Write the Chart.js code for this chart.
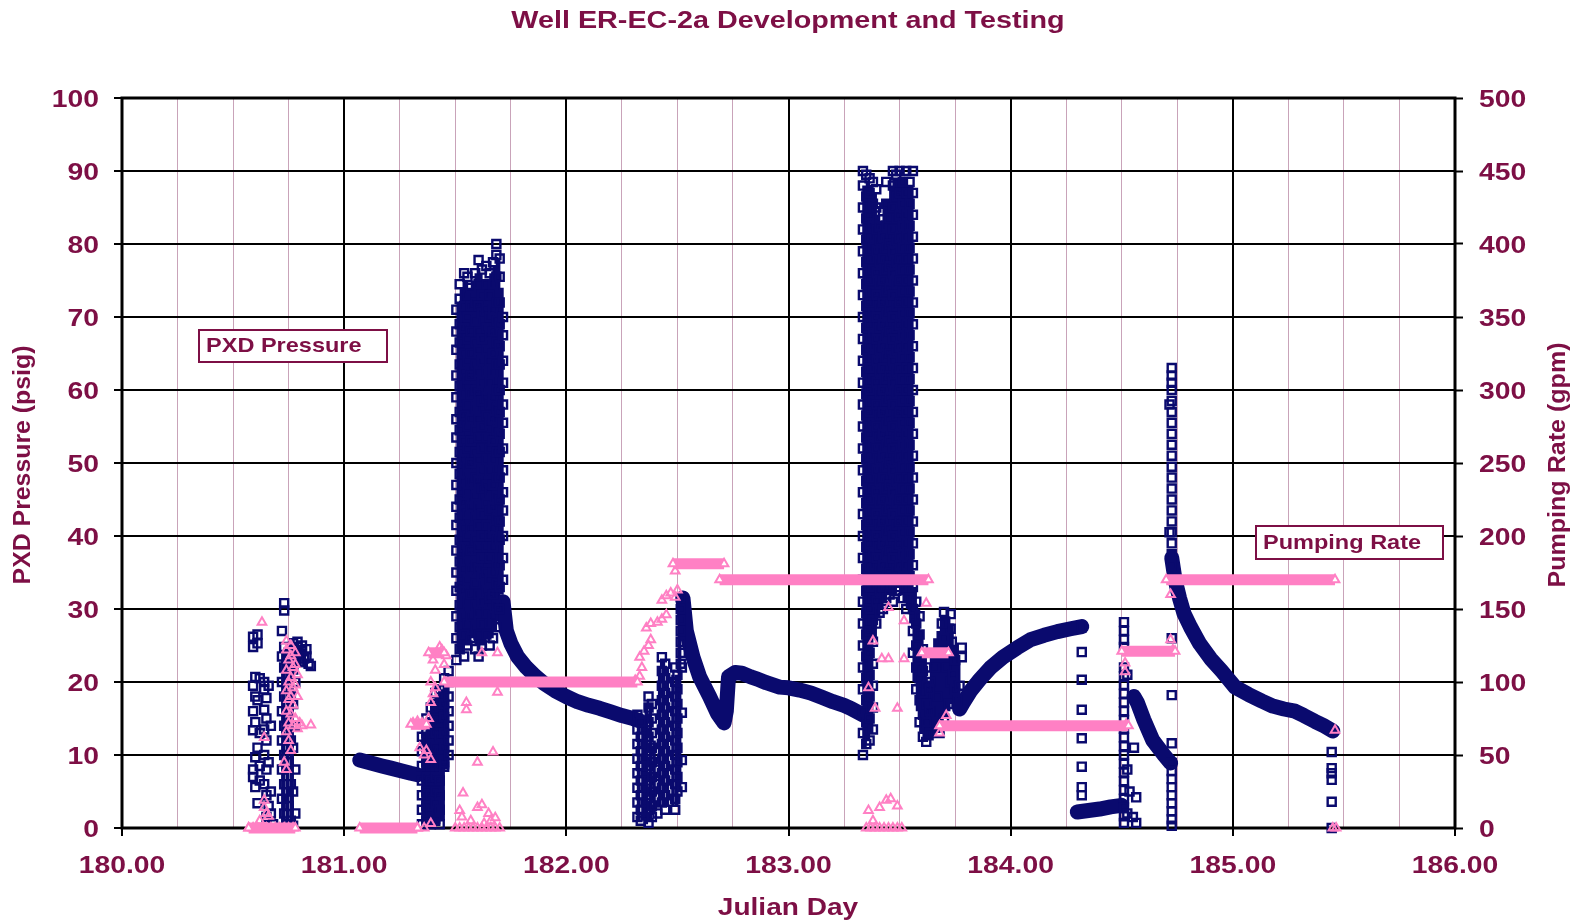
<!DOCTYPE html>
<html><head><meta charset="utf-8">
<script src="https://cdn.jsdelivr.net/npm/chart.js@4.4.1/dist/chart.umd.min.js"></script>
<style>html,body{margin:0;padding:0;background:#fff;}canvas{display:block;}</style>
</head><body>
<canvas id="c" width="1585" height="924"></canvas>
<script>
// ===== labels =====
const chartTitle = 'Well ER-EC-2a Development and Testing';
const xTitle = 'Julian Day';
const yTitle = 'PXD Pressure (psig)';
const y2Title = 'Pumping Rate (gpm)';
const pxdLabel = 'PXD Pressure';
const rateLabel = 'Pumping Rate';
const dayTicks = [180, 181, 182, 183, 184, 185, 186];
const psiTicks = [0, 10, 20, 30, 40, 50, 60, 70, 80, 90, 100];
const gpmTicks = [0, 50, 100, 150, 200, 250, 300, 350, 400, 450, 500];

// ===== PXD pressure (psig) : [day, psig] =====
const pxdCluster1 = [[180.59,26.2],[180.59,24.8],[180.60,20.7],[180.59,19.5],[180.60,18.0],[180.59,16.0],[180.60,14.5],[180.59,13.4],[180.60,9.7],[180.59,8.0],[180.60,5.6],[180.61,3.4],[180.59,7.0],
[180.61,26.5],[180.61,25.3],[180.62,20.5],[180.61,17.5],[180.62,13.0],[180.61,11.0],[180.62,8.5],[180.62,6.5],
[180.64,20.0],[180.64,19.0],[180.65,17.8],[180.64,16.2],[180.65,15.0],[180.64,13.5],[180.65,12.0],[180.64,10.0],[180.65,8.0],[180.64,6.0],[180.65,4.5],[180.66,3.0],[180.65,1.5],
[180.66,19.5],[180.67,14.0],[180.66,9.0],[180.67,5.0],[180.67,2.0],[180.68,0.5],
[180.73,30.8],[180.73,29.8],[180.72,27.0],[180.73,24.8],[180.72,23.5],[180.73,22.0],[180.72,20.0],[180.73,18.0],[180.72,16.0],[180.73,14.0],[180.72,12.0],[180.73,10.0],[180.72,8.0],[180.73,6.0],[180.72,4.0],[180.73,2.0],[180.74,0.5],
[180.75,24.0],[180.75,21.0],[180.76,18.0],[180.75,15.0],[180.76,12.0],[180.75,9.0],[180.76,6.0],[180.75,3.0],[180.76,1.0],
[180.77,25.3],[180.77,24.5],[180.78,23.5],[180.77,22.5],[180.78,20.0],[180.77,17.0],[180.78,14.0],[180.77,11.0],[180.78,8.0],[180.77,5.0],[180.78,2.0],[180.77,0.3],
[180.79,25.5],[180.79,24.8],[180.80,23.8],[180.80,22.8],[180.81,25.0],[180.81,24.2],[180.82,23.2],[180.83,24.5],[180.83,23.5],[180.84,22.5],[180.85,22.2]];

const pxdRise1 = [[181.35,0.5],[181.35,2.5],[181.35,4.5],[181.35,6.5],[181.35,8.5],[181.35,10.5],[181.35,12.5],
[181.37,1],[181.37,3],[181.37,5],[181.37,7],[181.37,9],[181.37,11],[181.37,13],[181.37,15],
[181.39,0.5],[181.39,2.5],[181.39,4.5],[181.39,6.5],[181.39,8.5],[181.39,10.5],[181.39,12.5],[181.39,14.5],[181.39,16.5],
[181.41,1],[181.41,3.4],[181.41,5],[181.41,7],[181.41,8.6],[181.41,11],[181.41,13],[181.41,15],[181.41,17],[181.41,18.5],
[181.43,0.5],[181.43,2.5],[181.43,4.5],[181.43,6.5],[181.43,8.5],[181.43,10.5],[181.43,12.5],[181.43,14.5],[181.43,16.5],[181.43,19],
[181.45,8.4],[181.45,9],[181.45,11],[181.45,13],[181.45,15.2],[181.45,17],[181.45,19],[181.45,20.5],
[181.47,10],[181.47,12],[181.47,14],[181.47,16],[181.47,18],[181.47,20],[181.47,21.5]];

const pxdSpike1 = [
 [181.505,[23,26,29,32.5,35,38,41.5,44,47,50,53.5,56,59,62,65.5,68,71]],
 [181.52,[24.5,27.5,30.5,33,36.5,39.5,42.5,45,48.5,51.5,54.5,57,60.5,63.5,66.5,69,72.5,74.5]],
 [181.54,[23.5,26.5,29,32.5,35.5,38.5,41,44.5,47.5,50.5,53,56.5,59.5,62.5,65,68.5,71.5,76]],
 [181.555,[25,28,31,34,37.5,40,43,46,49.5,52,55,58,61.5,64,67,70,73,75.5]],
 [181.57,[26,29,32,35.5,38,41,44,47.5,50,53,56,59.5,62,65,68,71.5,74]],
 [181.59,[24.5,27.5,30.5,33.5,36,39.5,42.5,45.5,48,51.5,54.5,57.5,60,63.5,66.5,69.5,72,76]],
 [181.605,[23.5,26.5,29.5,32,35.5,38.5,41.5,44,47.5,50.5,53.5,56,59.5,62.5,65.5,68,71.5,74.5,77.8]],
 [181.62,[25,28,31,34.5,37,40,43,46.5,49,52,55,58.5,61,64,67,70.5,73,76.5]],
 [181.64,[26.5,29.5,32.5,35,38.5,41.5,44.5,47,50.5,53.5,56.5,59,62.5,65.5,68.5,71,74.5,77]],
 [181.655,[25,28,31.5,34,37,40,43.5,46,49,52,55.5,58,61,64,67.5,70,73,76]],
 [181.67,[26,29,32,35,38.5,41,44,47,50.5,53,56,59,62.5,65,68,71,74.5,77.5]],
 [181.685,[27.5,30.5,33.5,36,39.5,42.5,45.5,48,51.5,54.5,57.5,60,63.5,66.5,69.5,72,75.5,78.5,80]],
 [181.70,[30,33,36,39.5,42,45,48,51.5,54,57,60,63.5,66,69,72,75.5,78]],
 [181.715,[34,37,40,43.5,46,49,52,55.5,58,61,64,67.5,70]]
];

const pxdMid2 = [
 [182.32,[15.5,13.5,11.5,9.5,7.5,5.5,3.5,1.5]],
 [182.335,[14.5,12.5,10.5,8.5,6.5,4.5,2.5,1]],
 [182.37,[18,16.5,14.5,12.5,10.5,8.5,6.5,4.5,2.5,0.7]],
 [182.385,[17,15,13,11,9,7,5,3,1.5]],
 [182.40,[4.2,6,8]],
 [182.41,[2.0]],
 [182.43,[23.4,21.5,19.5,17.5,15.5,13.5,11.5,9.5,7.5,5.5,3.5]],
 [182.445,[22.5,20.5,18.5,16.5,14.5,12.5,10.5,8.5,6.5,4.5,2.5]],
 [182.49,[22,20,18,16,14,12,10,8,6,4,2.5]],
 [182.50,[21,19,17,15,13,11,9,7,5]],
 [182.515,[31.6,30,28.5,27,25.5,24,22.5]],
 [182.52,[22,15.8,9.3,5.6]]
];

const pxdSpike2 = [
 [183.335,[10,13,16,19,22,25,28,31,34,37,40,43,46,49,52,55,58,61,64,67,70,73,76,79,82,85,88,90]],
 [183.35,[11.5,14.5,17.5,20.5,23.5,26.5,29.5,32.5,35.5,38.5,41.5,44.5,47.5,50.5,53.5,56.5,59.5,62.5,65.5,68.5,71.5,74.5,77.5,80.5,83.5,86.5,89.5]],
 [183.365,[12,15,18,21,24,27,30,33,36,39,42,45,48,51,54,57,60,63,66,69,72,75,78,81,84,87,89]],
 [183.38,[13.5,16.5,19.5,22.5,25.5,28.5,31.5,34.5,37.5,40.5,43.5,46.5,49.5,52.5,55.5,58.5,61.5,64.5,67.5,70.5,73.5,76.5,79.5,82.5,85.5,88.5]],
 [183.395,[28,31,34,37,40,43,46,49,52,55,58,61,64,67,70,73,76,79,82,85,87.5]],
 [183.41,[29.5,32.5,35.5,38.5,41.5,44.5,47.5,50.5,53.5,56.5,59.5,62.5,65.5,68.5,71.5,74.5,77.5,80.5,82.5]],
 [183.425,[30,33,36,39,42,45,48,51,54,57,60,63,66,69,72,75,78,81,84.5]],
 [183.44,[31.5,34.5,37.5,40.5,43.5,46.5,49.5,52.5,55.5,58.5,61.5,64.5,67.5,70.5,73.5,76.5,79.5,82.5,85.5,88.5]],
 [183.455,[32,35,38,41,44,47,50,53,56,59,62,65,68,71,74,77,80,83.5]],
 [183.47,[31,34,37,40,43,46,49,52,55,58,61,64,67,70,73,76,79,82,85,88,90]],
 [183.485,[32.5,35.5,38.5,41.5,44.5,47.5,50.5,53.5,56.5,59.5,62.5,65.5,68.5,71.5,74.5,77.5,80.5,83.5,86.5,89.5]],
 [183.50,[33,36,39,42,45,48,51,54,57,60,63,66,69,72,75,78,81,84,87,90]],
 [183.515,[31.5,34.5,37.5,40.5,43.5,46.5,49.5,52.5,55.5,58.5,61.5,64.5,67.5,70.5,73.5,76.5,79.5,82.5,85.5,88.5]],
 [183.53,[30,33,36,39,42,45,48,51,54,57,60,63,66,69,72,75,78,81,84,87,90]],
 [183.545,[31.5,34.5,37.5,40.5,43.5,46.5,49.5,52.5,55.5,58.5,61.5,64.5,67.5,70.5,73.5,76.5,79.5,82.5,85.5,88.5]],
 [183.56,[24,27,30,33,36,39,42,45,48,51,54,57,60,63,66,69,72,75,78,81,84,87,90]],
 [183.575,[19,22,25,28,31]],
 [183.59,[14.5,17.5,20.5,23.5,26.5,29]],
 [183.605,[12.5,15.5,18.5,21.5,24.5]],
 [183.62,[11.8,14.5,17,19.5,22]],
 [183.635,[13,16,19]]
];

const pxdTail2 = [[183.73,29.3],[183.73,27.3],[183.735,25.5],[183.78,24.7],[183.78,23.4],[183.64,20],[183.66,22],[183.68,24],[183.70,26],[183.69,28],[183.71,22],[183.73,20],[183.75,19],[183.72,17],[183.70,15],[183.68,13],[183.66,14],[183.64,16],[183.67,18],[183.74,21],[183.76,17.5],[183.77,19.5],[183.75,23],[183.70,29.6]];

const pxdCol184a = [[184.32,27.5],[184.32,24.1],[184.32,20.3],[184.32,16.2],[184.32,12.3],[184.32,8.4],[184.32,5.6],[184.32,4.5]];
const pxdCol184b = [[184.51,28.2],[184.51,27.0],[184.51,25.8],[184.51,24.8],[184.51,22],[184.51,20.8],[184.51,19.6],[184.51,18.4],[184.51,17.2],[184.51,16],[184.51,14.8],[184.51,13.6],[184.51,12.4],[184.51,11.2],[184.51,10],[184.51,8.8],[184.51,7.6],[184.51,6.4],[184.51,5.2],[184.51,4],[184.51,2.8],[184.51,1.6],[184.51,0.7],
[184.525,21],[184.525,8],[184.535,5],[184.525,2],[184.555,11],[184.565,4.2],[184.565,0.7],[184.55,1.5]];
const pxdCol184c = [[184.725,63],[184.725,62],[184.725,61],[184.725,60],[184.725,58.5],[184.725,57],[184.725,55.5],[184.725,54],[184.725,52.5],[184.725,51],[184.725,49.5],[184.725,48],[184.725,46.5],[184.725,45],[184.725,43.5],[184.725,42],[184.725,40.5],[184.725,39],[184.725,37.5],[184.725,36],[184.715,58],[184.715,40.5],
[184.725,26],[184.725,18.2],[184.725,11.6],[184.725,8.9],[184.725,7.8],[184.725,6.7],[184.725,5.6],[184.725,4.5],[184.725,3.4],[184.725,2.3],[184.725,1.2],[184.725,0.3]];
const pxdCol185 = [[185.445,10.4],[185.445,8.2],[185.445,7.5],[185.445,6.6],[185.445,3.6],[185.445,0]];

// dense vertical runs of readings: [day, lowest psig, highest psig]
const pxdRunsCluster1 = [[180.725,0.5,24],[180.745,0.5,24],[180.765,0.5,25],[180.785,21,25.5],[180.80,22,25],[180.82,22,24.5]];
const pxdRunsRise1 = [[181.36,0.5,13],[181.38,0.5,15],[181.40,0.5,17],[181.42,0.5,18],[181.44,1,19],[181.46,8,20.5]];
const pxdRunsSpike1 = [[181.515,24,72],[181.53,24,74],[181.548,25,75],[181.563,25,74],[181.58,26,75],[181.597,25,76],[181.613,25,76],[181.63,25,75],[181.648,26,75],[181.663,26,76],[181.678,27,77],[181.693,29,78],[181.708,32,74]];
const pxdRunsMid2 = [[182.325,1,15],[182.345,1,15],[182.36,0.5,17],[182.378,1,17],[182.395,2,12],[182.42,3,22],[182.437,3,23],[182.455,3,22],[182.48,3,21],[182.497,3,21],[182.51,5,31]];
const pxdRunsSpike2 = [[183.342,11,88],[183.357,12,88],[183.372,13,88],[183.388,26,87],[183.403,29,84],[183.418,30,83],[183.433,31,86],[183.448,32,86],[183.463,32,88],[183.478,32,89],[183.493,33,89],[183.508,32,89],[183.523,31,89],[183.538,30,88],[183.553,28,88],[183.568,20,33],[183.583,16,30],[183.598,13,27],[183.613,12,24],[183.628,12,20]];
const pxdRunsTail2 = [[183.645,12,24],[183.66,13,26],[183.675,13,27],[183.69,14,29],[183.705,15,29],[183.72,16,29],[183.735,17,28],[183.75,17,25],[183.765,16,23]];

// continuous pressure traces (drawn as thick lines)
const pxdCurve1 = [[181.07,9.3],[181.12,8.9],[181.17,8.5],[181.21,8.2],[181.26,7.8],[181.30,7.5],[181.33,7.3]];
const pxdCurve2 = [[181.715,31],[181.73,27],[181.75,25.3],[181.78,23.5],[181.82,22],[181.86,20.8],[181.90,19.8],[181.95,18.8],[182.00,18.0],[182.05,17.3],[182.10,16.8],[182.15,16.4],[182.20,15.9],[182.25,15.4],[182.30,15.0],[182.33,14.7]];
const pxdCurve3 = [[182.525,31.5],[182.54,27],[182.57,23.4],[182.60,20.7],[182.645,18],[182.68,15.7],[182.71,14.4],[182.72,16],[182.73,20.7],[182.76,21.3],[182.79,21.2],[182.83,20.7],[182.86,20.4],[182.90,19.9],[182.96,19.3],[183.00,19.2],[183.05,18.9],[183.10,18.5],[183.15,17.9],[183.20,17.3],[183.25,16.8],[183.28,16.4],[183.335,15.5]];
const pxdCurve4 = [[183.77,16.3],[183.785,17.1],[183.82,18.8],[183.86,20.3],[183.91,22.0],[183.965,23.4],[184.03,24.7],[184.09,25.8],[184.15,26.4],[184.21,26.9],[184.27,27.3],[184.32,27.6]];
const pxdCurve5 = [[184.30,2.2],[184.35,2.4],[184.40,2.6],[184.45,2.9],[184.50,3.1]];
const pxdCurve6 = [[184.555,18],[184.57,17.2],[184.60,14.8],[184.64,12],[184.69,10],[184.72,8.9]];
const pxdCurve7 = [[184.725,37],[184.74,34],[184.76,31.5],[184.78,29.4],[184.81,27.5],[184.85,25.3],[184.90,23.2],[184.95,21.5],[185.01,19.3],[185.07,18.3],[185.13,17.4],[185.18,16.7],[185.23,16.3],[185.28,16.0],[185.32,15.4],[185.37,14.6],[185.41,14.0],[185.45,13.3]];

// ===== Pumping rate (gpm) : [day, gpm] =====
const rateCluster1 = [[180.63,141],[180.64,62],[180.64,19],[180.64,14],[180.65,10],[180.62,5],[180.66,8],
[180.74,128],[180.74,122],[180.75,115],[180.74,108],[180.75,100],[180.74,94],[180.75,88],[180.74,80],[180.75,72],[180.74,66],
[180.76,125],[180.76,118],[180.77,110],[180.76,103],[180.77,96],[180.76,90],[180.77,84],[180.76,78],[180.77,70],
[180.78,120],[180.78,112],[180.79,105],[180.78,98],[180.79,90],[180.78,75],[180.79,68],[180.80,72],[180.81,70],[180.85,70.5],[180.76,53],[180.74,40],[180.75,60],[180.73,45],
[180.57,0],[180.59,0],[180.61,0],[180.63,0],[180.65,0],[180.67,0],[180.69,0],[180.71,0],[180.73,0],[180.75,0],[180.77,0]];
const rateZero1 = [[180.57,0],[180.78,0]];
const rateZero2 = [[181.07,0],[181.33,0]];
const rateStep1 = [[181.33,0],[181.36,0],[181.39,3],[181.31,72],[181.33,73],[181.35,72],[181.36,70],[181.38,75],[181.34,55],[181.36,50],[181.39,47],[181.37,53],[181.39,86],[181.40,92],[181.39,100],[181.41,108],[181.40,115],[181.42,120],[181.44,122],[181.46,118],[181.45,112],[181.43,124],[181.41,96]];
const rate70a = [[181.30,71],[181.37,71]];
const rate120a = [[181.38,120],[181.45,120]];
const rate100 = [[181.45,100],[182.32,100]];
const rateLow1 = [[181.55,86],[181.55,81],[181.535,24],[181.53,7.5],[181.60,14],[181.62,16],[181.65,10],[181.68,7],[181.60,45],[181.67,52],[181.62,120],[181.69,120],[181.69,93],[181.52,12],[181.57,5],[181.63,3],[181.66,5],
[181.50,0],[181.52,0],[181.54,0],[181.56,0],[181.58,0],[181.60,0],[181.62,0],[181.64,0],[181.66,0],[181.68,0],[181.70,0]];
const rateStep2 = [[182.31,101],[182.33,104],[182.34,110],[182.33,117],[182.35,121],[182.37,125],[182.38,129],[182.36,137],[182.38,140],[182.41,141],[182.43,143],[182.45,146],[182.43,156],[182.45,159],[182.47,161],[182.49,158],[182.50,163],[182.49,176]];
const rate180 = [[182.48,181],[182.71,181]];
const rate170a = [[182.69,170],[183.63,170]];
const rateSpike2 = [[183.45,151],[183.52,142],[183.62,154],[183.38,128],[183.42,116],[183.45,116],[183.52,116],[183.36,96],[183.39,82],[183.49,82],
[183.44,19],[183.36,12],[183.49,15],[183.41,14],[183.46,20],[183.38,5],
[183.35,0],[183.37,0],[183.39,0],[183.41,0],[183.43,0],[183.45,0],[183.47,0],[183.49,0],[183.51,0],[183.71,77],[183.68,65]];
const rate120b = [[183.60,120],[183.72,120]];
const rate70b = [[183.68,70],[184.53,70]];
const rate120c = [[184.50,121],[184.74,121]];
const rate170b = [[184.70,170],[185.46,170]];
const rateEnd = [[184.515,113],[184.515,107],[184.52,71],[184.73,122],[184.72,129],[184.72,160],[185.46,67],[185.465,0],[185.45,0]];

// ===== styles =====
const NAVY = '#0a0a6e';
const PINK = '#ff80c4';
const TEXT = '#7d0f45';
const FONT = '"Liberation Sans", Arial, sans-serif';

const toXY = arr => arr.map(p => ({x: p[0], y: p[1]}));
const colsToXY = cols => cols.flatMap(c => c[1].map(v => ({x: c[0], y: v})));
const runsToXY = runs => runs.flatMap(r => [{x: r[0], y: r[1]}, {x: r[0], y: r[2]}, {x: r[0], y: null}]);

function squares(data) {
  return {data, yAxisID: 'y', showLine: false, pointStyle: 'rect', pointRadius: 5.7,
    pointBorderWidth: 2.4, pointBorderColor: NAVY, pointBackgroundColor: 'rgba(0,0,0,0)', clip: false, order: 2};
}
function runs(data, w) {
  return {data, yAxisID: 'y', showLine: true, spanGaps: false, borderColor: NAVY, borderWidth: w, pointRadius: 0,
    borderCapStyle: 'butt', tension: 0, clip: false, order: 3};
}
function curve(data) {
  return {data, yAxisID: 'y', showLine: true, borderColor: NAVY, borderWidth: 15, pointRadius: 0,
    borderCapStyle: 'round', borderJoinStyle: 'round', tension: 0, clip: false, order: 2};
}
function tris(data) {
  return {data, yAxisID: 'y2', showLine: false, pointStyle: 'triangle', pointRadius: 5,
    pointBorderWidth: 2, pointBorderColor: PINK, pointBackgroundColor: 'rgba(0,0,0,0)', clip: false, order: 1};
}
function band(data) {
  return {data, yAxisID: 'y2', showLine: true, borderColor: PINK, borderWidth: 11, borderCapStyle: 'butt',
    pointStyle: 'triangle', pointRadius: 5, pointBorderWidth: 2, pointBorderColor: PINK,
    pointBackgroundColor: '#ffffff', tension: 0, clip: false, order: 1};
}

const datasets = [
  runs(runsToXY(pxdRunsCluster1), 4), runs(runsToXY(pxdRunsRise1), 6), runs(runsToXY(pxdRunsSpike1), 4.5),
  runs(runsToXY(pxdRunsMid2), 3.5), runs(runsToXY(pxdRunsSpike2), 4.5), runs(runsToXY(pxdRunsTail2), 4),
  squares(toXY(pxdCluster1)), squares(toXY(pxdRise1)), squares(colsToXY(pxdSpike1)),
  squares(colsToXY(pxdMid2)), squares(colsToXY(pxdSpike2)), squares(toXY(pxdTail2)),
  squares(toXY(pxdCol184a)), squares(toXY(pxdCol184b)), squares(toXY(pxdCol184c)), squares(toXY(pxdCol185)),
  curve(toXY(pxdCurve1)), curve(toXY(pxdCurve2)), curve(toXY(pxdCurve3)), curve(toXY(pxdCurve4)),
  curve(toXY(pxdCurve5)), curve(toXY(pxdCurve6)), curve(toXY(pxdCurve7)),
  band(toXY(rateZero1)), band(toXY(rateZero2)), band(toXY(rate70a)), band(toXY(rate120a)), band(toXY(rate100)),
  band(toXY(rate180)), band(toXY(rate170a)), band(toXY(rate120b)), band(toXY(rate70b)), band(toXY(rate120c)), band(toXY(rate170b)),
  tris(toXY(rateCluster1)), tris(toXY(rateStep1)), tris(toXY(rateLow1)), tris(toXY(rateStep2)), tris(toXY(rateSpike2)), tris(toXY(rateEnd))
];

function drawText(ctx, text, x, y, size, sx, align, rot) {
  ctx.save();
  ctx.translate(x, y);
  if (rot) ctx.rotate(rot);
  ctx.scale(sx, 1);
  ctx.font = 'bold ' + size + 'px ' + FONT;
  ctx.textAlign = align;
  ctx.textBaseline = 'alphabetic';
  ctx.fillStyle = TEXT;
  ctx.fillText(text, 0, 0);
  ctx.restore();
}
function labelBox(ctx, text, x1, y1, x2, y2, size, sx) {
  ctx.save();
  ctx.fillStyle = '#ffffff';
  ctx.fillRect(x1, y1, x2 - x1, y2 - y1);
  ctx.strokeStyle = TEXT;
  ctx.lineWidth = 2;
  ctx.strokeRect(x1, y1, x2 - x1, y2 - y1);
  ctx.restore();
  drawText(ctx, text, x1 + 7, (y1 + y2) / 2 + 0.30 * size, size, sx, 'left');
}

const decor = {
  id: 'decor',
  beforeDatasetsDraw(chart) {
    const {ctx, chartArea: a} = chart;
    ctx.save();
    ctx.strokeStyle = '#000';
    ctx.lineWidth = 3;
    ctx.strokeRect(a.left, a.top, a.right - a.left, a.bottom - a.top);
    ctx.restore();
  },
  afterDatasetsDraw(chart) {
    const {ctx} = chart;
    labelBox(ctx, pxdLabel, 199, 330, 387, 362, 21, 1.12);
    labelBox(ctx, rateLabel, 1256, 526, 1443, 559, 21, 1.12);
  },
  afterDraw(chart) {
    const {ctx, scales} = chart;
    const TS = 24, TSX = 1.18;
    psiTicks.forEach(v => drawText(ctx, String(v), 99, scales.y.getPixelForValue(v) + 0.358 * TS, TS, TSX, 'right'));
    gpmTicks.forEach(v => drawText(ctx, String(v), 1479, scales.y2.getPixelForValue(v) + 0.358 * TS, TS, TSX, 'left'));
    dayTicks.forEach(v => drawText(ctx, v.toFixed(2), scales.x.getPixelForValue(v), 864 + 0.358 * TS, TS, TSX, 'center'));
    drawText(ctx, chartTitle, 788, 20 + 0.36 * 23, 23, 1.25, 'center');
    drawText(ctx, xTitle, 788, 907 + 0.36 * 23, 23, 1.22, 'center');
    drawText(ctx, yTitle, 22 + 0.36 * 23, 465, 23, 1.08, 'center', -Math.PI / 2);
    drawText(ctx, y2Title, 1557 + 0.36 * 23, 465, 23, 1.09, 'center', -Math.PI / 2);
  }
};

new Chart(document.getElementById('c'), {
  type: 'scatter',
  data: {datasets},
  options: {
    responsive: false, animation: false, events: [],
    layout: {padding: {top: 98, left: 0, right: 0, bottom: 0}},
    plugins: {legend: {display: false}, tooltip: {enabled: false}, title: {display: false}},
    scales: {
      x: {type: 'linear', position: 'bottom', min: 180, max: 186,
        ticks: {stepSize: 0.25, display: false},
        border: {display: false},
        grid: {
          color: c => (c.tick && Math.abs(c.tick.value - Math.round(c.tick.value)) < 1e-6) ? '#000' : '#c9a3b9',
          lineWidth: c => (c.tick && Math.abs(c.tick.value - Math.round(c.tick.value)) < 1e-6) ? 2 : 1,
          tickColor: c => (c.tick && Math.abs(c.tick.value - Math.round(c.tick.value)) < 1e-6) ? '#000' : 'rgba(0,0,0,0)',
          tickLength: 8, tickWidth: 2
        },
        afterFit: s => { s.height = 96; }
      },
      y: {type: 'linear', position: 'left', min: 0, max: 100,
        ticks: {stepSize: 10, display: false},
        border: {display: false},
        grid: {color: '#000', lineWidth: 2, tickLength: 8, tickColor: '#000', tickWidth: 2},
        afterFit: s => { s.width = 122; }
      },
      y2: {type: 'linear', position: 'right', min: 0, max: 500,
        ticks: {stepSize: 50, display: false},
        border: {display: false},
        grid: {drawOnChartArea: false, tickLength: 8, tickColor: '#000', tickWidth: 2},
        afterFit: s => { s.width = 130; }
      }
    }
  },
  plugins: [decor]
});
</script>
</body></html>
